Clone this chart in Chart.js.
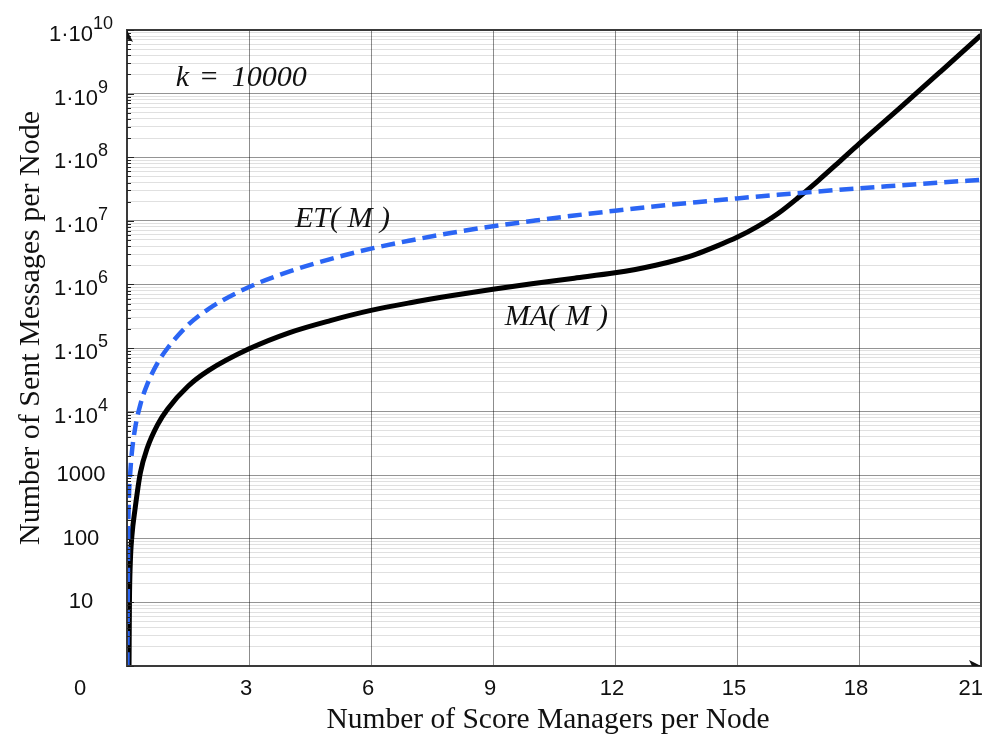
<!DOCTYPE html>
<html>
<head>
<meta charset="utf-8">
<script src="https://cdn.jsdelivr.net/npm/chart.js@4/dist/chart.umd.min.js"></script>
<style>
  html, body { margin: 0; padding: 0; background: #fff; }
  canvas { display: block; }
</style>
</head>
<body>
<canvas id="msgChart" width="992" height="740"></canvas>
<script>
// Sent messages per node vs. number of score managers (k = 10000)
const managersMA = [0.05, 0.06, 0.08, 0.12, 0.2, 0.33, 0.5, 0.75, 1, 1.5, 2, 3, 4, 5, 6, 7, 8, 9, 10, 11, 12, 12.5, 13, 13.5, 14, 14.5, 15, 15.5, 16, 16.5, 17, 17.5, 18, 19, 20, 21];
const messagesMA = [1, 10, 40, 110, 300, 1100, 2700, 6200, 1.1e4, 2.5e4, 4.4e4, 9.7e4, 1.75e5, 2.7e5, 3.9e5, 5.2e5, 6.7e5, 8.4e5, 1.03e6, 1.25e6, 1.52e6, 1.72e6, 2.0e6, 2.4e6, 3.0e6, 4.0e6, 5.5e6, 8.1e6, 1.29e7, 2.3e7, 4.3e7, 8.3e7, 1.62e8, 5.9e8, 2.2e9, 8.3e9];

const managersET = [0.01, 0.02, 0.03, 0.05, 0.08, 0.12, 0.2, 0.33, 0.5, 0.75, 1, 1.5, 2, 3, 4, 5, 6, 7, 8, 9, 10, 11, 12, 13, 14, 15, 16, 17, 18, 19, 20, 21];
const messagesET = [1, 15, 120, 500, 1100, 2300, 5500, 1.3e4, 2.7e4, 5.8e4, 1.0e5, 2.3e5, 4.1e5, 9.1e5, 1.6e6, 2.5e6, 3.65e6, 4.95e6, 6.5e6, 8.2e6, 1.0e7, 1.21e7, 1.44e7, 1.69e7, 1.96e7, 2.25e7, 2.56e7, 2.89e7, 3.24e7, 3.6e7, 4.0e7, 4.4e7];

const xTickValues = [0, 3, 6, 9, 12, 15, 18, 21];
const yTickValues = [1e10, 1e9, 1e8, 1e7, 1e6, 1e5, 1e4, 1000, 100, 10];
const yTickLabels = ['1·10^10', '1·10^9', '1·10^8', '1·10^7', '1·10^6', '1·10^5', '1·10^4', '1000', '100', '10'];

const xTitle = 'Number of Score Managers per Node';
const yTitle = 'Number of Sent Messages per Node';

// curve labels, anchored in data coordinates (left, baseline)
const annotations = [
    { parts: [['k', 0], ['=', 23], ['10000', 56]], x: 1.2, y: 1.3e9 },
    { parts: [['ET( M )', 0]], x: 4.13, y: 8e6 },
    { parts: [['MA( M )', 0]], x: 9.29, y: 2.3e5 }
];

const sansFont = '"Liberation Sans", Arial, sans-serif';
const serifFont = '"Liberation Serif", "Times New Roman", serif';

function isDecade(v) {
    const l = Math.log10(v);
    return Math.abs(l - Math.round(l)) < 1e-9;
}

const axisDecor = {
    id: 'axisDecor',
    afterDraw(chart) {
        const { ctx, chartArea: a, scales: { x, y } } = chart;
        ctx.save();

        // frame
        ctx.strokeStyle = '#3a3a3a';
        ctx.lineWidth = 2;
        ctx.strokeRect(a.left, a.top, a.right - a.left, a.bottom - a.top);

        // inward tick marks on the y axis
        ctx.strokeStyle = '#222';
        ctx.lineWidth = 1;
        y.ticks.forEach(t => {
            const py = Math.round(y.getPixelForValue(t.value)) + 0.5;
            const len = isDecade(t.value) ? 7 : 4;
            ctx.beginPath();
            ctx.moveTo(a.left, py);
            ctx.lineTo(a.left + len, py);
            ctx.stroke();
        });

        // arrow heads
        ctx.fillStyle = '#111';
        ctx.beginPath();
        ctx.moveTo(a.left, a.top);
        ctx.lineTo(a.left + 6, a.top + 12);
        ctx.lineTo(a.left, a.top + 9);
        ctx.closePath();
        ctx.fill();
        ctx.beginPath();
        ctx.moveTo(a.right, a.bottom);
        ctx.lineTo(a.right - 12, a.bottom - 6);
        ctx.lineTo(a.right - 9, a.bottom);
        ctx.closePath();
        ctx.fill();

        // y tick labels with superscript exponents
        ctx.fillStyle = '#111';
        ctx.textBaseline = 'middle';
        ctx.textAlign = 'left';
        yTickValues.forEach((v, i) => {
            const py = y.getPixelForValue(v);
            const [base, exp] = yTickLabels[i].split('^');
            ctx.font = '22px ' + sansFont;
            const wb = ctx.measureText(base).width;
            let we = 0;
            if (exp) {
                ctx.font = '18px ' + sansFont;
                we = ctx.measureText(exp).width;
            }
            const start = 81 - (wb + we) / 2;
            ctx.font = '22px ' + sansFont;
            ctx.fillText(base, start, exp ? py + 5 : py);
            if (exp) {
                ctx.font = '18px ' + sansFont;
                ctx.fillText(exp, start + wb, py - 6);
            }
        });

        // x tick labels
        ctx.font = '22px ' + sansFont;
        xTickValues.forEach(v => {
            const px = x.getPixelForValue(v);
            if (v === 0) {
                ctx.textAlign = 'center';
                ctx.fillText('0', px - 47, 689);
            } else if (v === 21) {
                ctx.textAlign = 'right';
                ctx.fillText(String(v), px + 2, 689);
            } else {
                ctx.textAlign = 'center';
                ctx.fillText(String(v), px - 3, 689);
            }
        });

        // axis titles
        ctx.font = '29.5px ' + serifFont;
        ctx.textAlign = 'center';
        ctx.fillText(xTitle, (a.left + a.right) / 2 - 6, 720);
        ctx.save();
        ctx.translate(31, 328);
        ctx.rotate(-Math.PI / 2);
        ctx.font = '30px ' + serifFont;
        ctx.fillText(yTitle, 0, 0);
        ctx.restore();

        // curve annotations
        ctx.font = 'italic 30px ' + serifFont;
        ctx.textAlign = 'left';
        ctx.textBaseline = 'alphabetic';
        annotations.forEach(an => {
            const px = x.getPixelForValue(an.x);
            const py = y.getPixelForValue(an.y);
            an.parts.forEach(([t, dx]) => ctx.fillText(t, px + dx, py));
        });

        ctx.restore();
    }
};

new Chart(document.getElementById('msgChart').getContext('2d'), {
    type: 'line',
    data: {
        datasets: [
            {
                label: 'ET(M)',
                data: managersET.map((m, i) => ({ x: m, y: messagesET[i] })),
                borderColor: '#2b65f4',
                borderWidth: 4.5,
                borderDash: [14, 7],
                pointRadius: 0,
                cubicInterpolationMode: 'monotone',
                order: 1
            },
            {
                label: 'MA(M)',
                data: managersMA.map((m, i) => ({ x: m, y: messagesMA[i] })),
                borderColor: '#000',
                borderWidth: 5,
                pointRadius: 0,
                cubicInterpolationMode: 'monotone',
                order: 2
            }
        ]
    },
    options: {
        responsive: false,
        animation: false,
        layout: { padding: { left: 127, top: 30, right: 11, bottom: 74 } },
        plugins: { legend: { display: false }, tooltip: { enabled: false } },
        scales: {
            x: {
                type: 'linear',
                min: 0,
                max: 21,
                afterBuildTicks: scale => { scale.ticks = xTickValues.map(v => ({ value: v })); },
                ticks: { display: false },
                border: { display: false },
                grid: {
                    drawTicks: false,
                    color: c => (c.tick.value === 0 || c.tick.value === 21) ? 'rgba(0,0,0,0)' : 'rgba(0,0,0,0.45)',
                    lineWidth: 1
                }
            },
            y: {
                type: 'logarithmic',
                min: 1,
                max: 1e10,
                afterBuildTicks: scale => {
                    const ticks = [];
                    for (let e = 0; e < 10; e++) {
                        for (let s = 1; s <= 9; s++) ticks.push({ value: s * Math.pow(10, e) });
                    }
                    ticks.push({ value: 1e10 });
                    scale.ticks = ticks;
                },
                ticks: { display: false, autoSkip: false },
                border: { display: false },
                grid: {
                    drawTicks: false,
                    color: c => isDecade(c.tick.value) ? 'rgba(0,0,0,0.42)' : 'rgba(0,0,0,0.12)',
                    lineWidth: 1
                }
            }
        }
    },
    plugins: [axisDecor]
});
</script>
</body>
</html>
